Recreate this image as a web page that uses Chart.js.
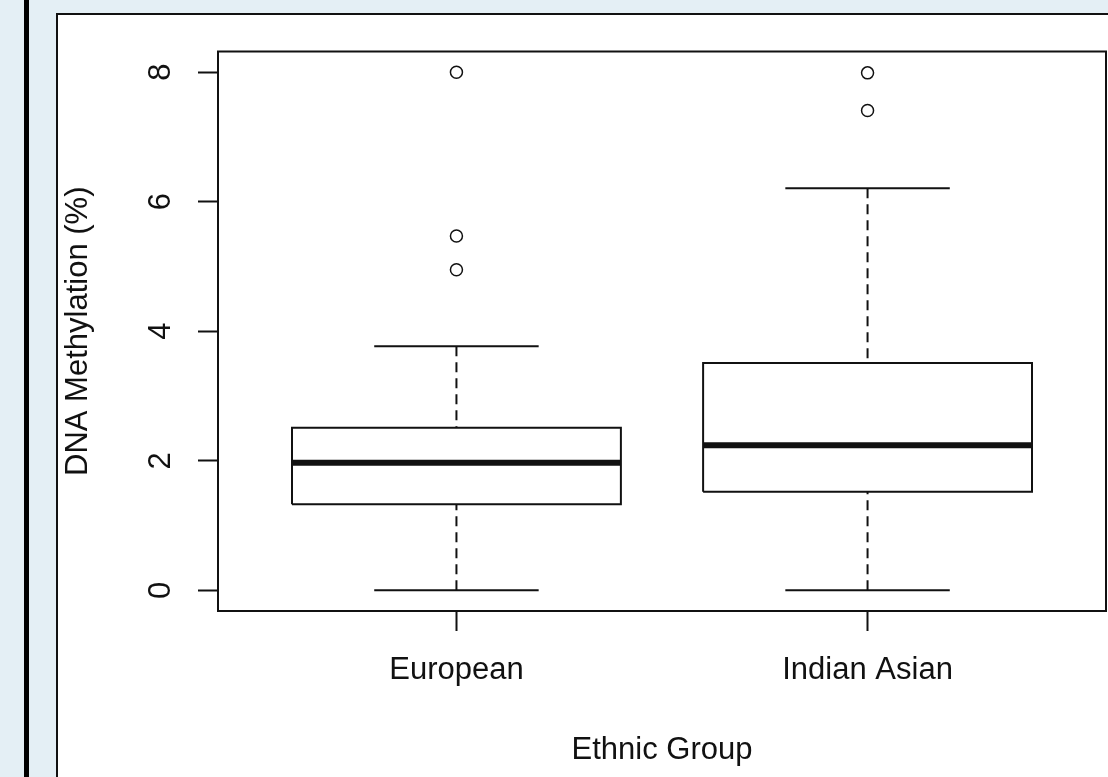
<!DOCTYPE html>
<html>
<head>
<meta charset="utf-8">
<script src="https://cdn.jsdelivr.net/npm/chart.js@4/dist/chart.umd.min.js"></script>
<style>
body { margin: 0; background: #e4eff5; overflow: hidden; width: 1108px; height: 777px; position: relative; }
#bar { position: absolute; left: 24px; top: 0; width: 5px; height: 777px; background: #000; }
#panel { position: absolute; left: 56px; top: 13px; width: 1100px; height: 800px; background: #fff; border-top: 2px solid #111; border-left: 2px solid #111; }
#chart { position: absolute; left: 0; top: 0; }
</style>
</head>
<body>
<div id="bar"></div>
<div id="panel"><canvas id="chart" width="1051" height="762"></canvas></div>
<script>
let categories = ['European', 'Indian Asian'];//groups on x axis
let lowerWhisker = [0, 0];
let q1 = [1.33, 1.52];
let medians = [1.97, 2.24];
let q3 = [2.51, 3.51];
let upperWhisker = [3.77, 6.21];
let outliers = [[8.0, 5.47, 4.95], [7.99, 7.41]];
let yTicks = [0, 2, 4, 6, 8];

const boxHalf = 0.4;//half of box width in x units
const capHalf = 0.2;
const font = { family: "'Liberation Sans', Arial, sans-serif", size: 31 };

function lineSet(points, width, dash) {
    return {
        data: points,
        showLine: true,
        borderColor: '#111',
        borderWidth: width,
        borderDash: dash || [],
        pointRadius: 0,
        fill: false
    };
}

let datasets = [];
categories.forEach((cat, i) => {
    let c = i + 1;
    // box from q1 to q3
    datasets.push(lineSet([
        {x: c - boxHalf, y: q1[i]}, {x: c + boxHalf, y: q1[i]},
        {x: c + boxHalf, y: q3[i]}, {x: c - boxHalf, y: q3[i]},
        {x: c - boxHalf, y: q1[i]}
    ], 2));
    datasets.push(lineSet([{x: c - boxHalf, y: medians[i]}, {x: c + boxHalf, y: medians[i]}], 6));
    // dashed whiskers
    datasets.push(lineSet([{x: c, y: upperWhisker[i]}, {x: c, y: q3[i]}], 2, [10, 6]));
    datasets.push(lineSet([{x: c, y: lowerWhisker[i]}, {x: c, y: q1[i]}], 2, [10, 6]));
    // caps
    datasets.push(lineSet([{x: c - capHalf, y: upperWhisker[i]}, {x: c + capHalf, y: upperWhisker[i]}], 2));
    datasets.push(lineSet([{x: c - capHalf, y: lowerWhisker[i]}, {x: c + capHalf, y: lowerWhisker[i]}], 2));
    // outliers
    datasets.push({
        data: outliers[i].map(v => ({x: c, y: v})),
        showLine: false,
        pointRadius: 6,
        pointBorderWidth: 1.5,
        pointBorderColor: '#111',
        pointBackgroundColor: 'rgba(0,0,0,0)'
    });
});

const frame = {//box around the plot region
    id: 'frame',
    afterDraw(chart) {
        const {ctx, chartArea: a} = chart;
        ctx.save();
        ctx.strokeStyle = '#111';
        ctx.lineWidth = 2;
        ctx.strokeRect(a.left, a.top, a.right - a.left, a.bottom - a.top);
        ctx.restore();
    }
};

const tickGrid = { drawOnChartArea: false, drawTicks: true, tickLength: 20, tickWidth: 2, tickColor: '#111' };

new Chart(document.getElementById('chart'), {
    type: 'scatter',
    data: { datasets: datasets },
    plugins: [frame],
    options: {
        responsive: false,
        animation: false,
        layout: { autoPadding: false, padding: { top: 36.5, right: 3, left: 0, bottom: 0 } },
        plugins: { legend: { display: false }, tooltip: { enabled: false } },
        scales: {
            x: {
                type: 'linear', min: 0.42, max: 2.58, bounds: 'data',
                afterBuildTicks: s => { s.ticks = categories.map((c, i) => ({value: i + 1})); },
                afterFit: s => { s.height = 166; s.paddingLeft = 0; s.paddingRight = 0; },
                border: { display: false },
                grid: tickGrid,
                ticks: { padding: 21, maxRotation: 0, autoSkip: false, color: '#111', font: font,
                    callback: (v, i) => categories[i] },
                title: { display: true, text: 'Ethnic Group', color: '#111', font: font, padding: { bottom: 8 } }
            },
            y: {
                type: 'linear', min: -0.32, max: 8.32, bounds: 'data',
                afterBuildTicks: s => { s.ticks = yTicks.map(v => ({value: v})); },
                afterFit: s => { s.width = 160; s.paddingTop = 0; s.paddingBottom = 0; },
                border: { display: false },
                grid: tickGrid,
                ticks: { minRotation: 90, maxRotation: 90, crossAlign: 'center', padding: 28, color: '#111', font: font },
                title: { display: true, text: 'DNA Methylation (%)', color: '#111', font: font, padding: { top: 2 } }
            }
        }
    }
});
</script>
</body>
</html>
